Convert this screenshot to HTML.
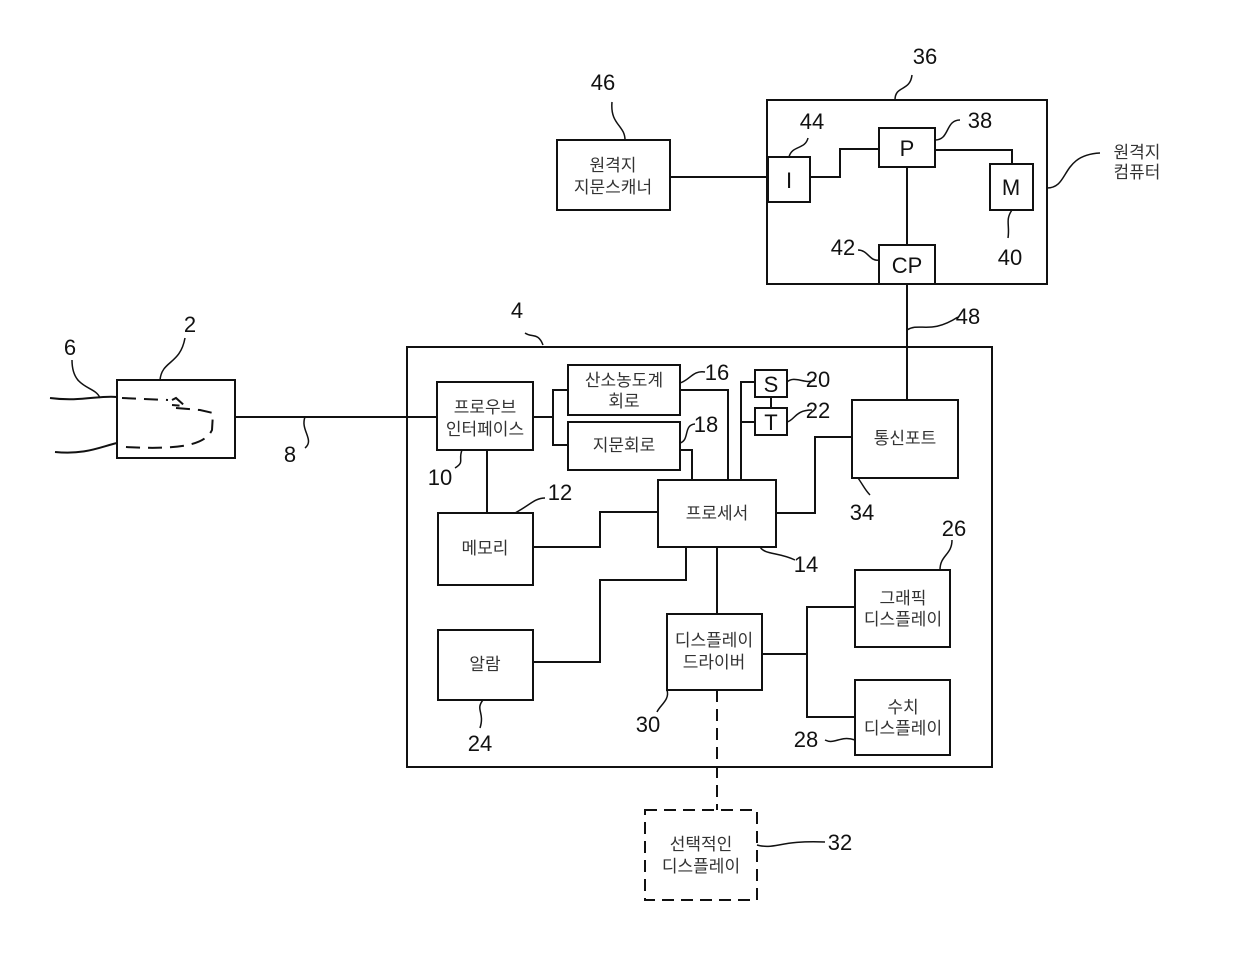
<!DOCTYPE html>
<html><head><meta charset="utf-8"><style>
html,body{margin:0;padding:0;background:#fff}
svg{display:block}
text{font-family:"Liberation Sans","Noto Sans CJK KR",sans-serif;fill:#222}
.k{font-size:17px;fill:#333}
.n{font-size:22px;fill:#111}
</style></head><body>
<svg width="1240" height="953" viewBox="0 0 1240 953" xmlns="http://www.w3.org/2000/svg">
<g fill="none" stroke="#111" stroke-width="2">
<rect x="767" y="100" width="280" height="184"/>
<rect x="768" y="157" width="42" height="45"/>
<rect x="879" y="128" width="56" height="39"/>
<rect x="990" y="164" width="43" height="46"/>
<rect x="879" y="245" width="56" height="39"/>
<polyline points="810,177 840,177 840,149 879,149"/>
<polyline points="935,150 1012,150 1012,164"/>
<line x1="907" y1="167" x2="907" y2="245"/>
<line x1="907" y1="284" x2="907" y2="400"/>
<rect x="557" y="140" width="113" height="70"/>
<line x1="670" y1="177" x2="768" y2="177"/>
<rect x="407" y="347" width="585" height="420"/>
<rect x="117" y="380" width="118" height="78"/>
<line x1="235" y1="417" x2="437" y2="417"/>
<path d="M50,398 C80,402 100,395 117,397"/>
<path d="M55,452 C85,455 100,447 117,443"/>
<path d="M122,398 L168,400 M172,400 L176,398 L185,406 L172,405 M176,408 L200,410 L213,413 L212,430 C205,445 180,450 125,447 L122,446" stroke-dasharray="14,8"/>
<rect x="437" y="382" width="96" height="68"/>
<rect x="568" y="365" width="112" height="50"/>
<rect x="568" y="422" width="112" height="48"/>
<rect x="755" y="370" width="32" height="27"/>
<rect x="755" y="408" width="32" height="27"/>
<rect x="852" y="400" width="106" height="78"/>
<rect x="658" y="480" width="118" height="67"/>
<rect x="438" y="513" width="95" height="72"/>
<rect x="438" y="630" width="95" height="70"/>
<rect x="667" y="614" width="95" height="76"/>
<rect x="855" y="570" width="95" height="77"/>
<rect x="855" y="680" width="95" height="75"/>
<rect x="645" y="810" width="112" height="90" stroke-dasharray="12,7"/>
<polyline points="533,417 553,417"/>
<polyline points="568,390 553,390 553,445 568,445"/>
<line x1="487" y1="450" x2="487" y2="513"/>
<polyline points="533,547 600,547 600,512 658,512"/>
<polyline points="680,390 728,390 728,480"/>
<polyline points="680,450 692,450 692,480"/>
<polyline points="755,382 741,382 741,480"/>
<line x1="741" y1="422" x2="755" y2="422"/>
<line x1="771" y1="397" x2="771" y2="408"/>
<polyline points="776,513 815,513 815,437 852,437"/>
<polyline points="686,547 686,580 600,580 600,662 533,662"/>
<line x1="717" y1="547" x2="717" y2="614"/>
<polyline points="762,654 807,654"/>
<polyline points="855,607 807,607 807,717 855,717"/>
<line x1="717" y1="690" x2="717" y2="810" stroke-dasharray="12,7"/>
</g>
<g fill="none" stroke="#111" stroke-width="1.5">
<path d="M895,100 C895,85 910,92 912,75"/>
<path d="M625,140 C625,125 610,125 612,102"/>
<path d="M525,333 C532,338 538,332 543,345"/>
<path d="M160,380 C162,360 180,365 185,338"/>
<path d="M100,398 C95,385 72,390 72,360"/>
<path d="M305,417 C300,430 315,440 305,448"/>
<path d="M462,450 C458,460 465,462 455,468"/>
<path d="M515,513 C530,505 535,498 545,498"/>
<path d="M680,383 C690,380 693,370 705,372"/>
<path d="M680,443 C690,440 683,425 695,424"/>
<path d="M787,382 C795,375 805,385 815,380"/>
<path d="M787,422 C795,420 795,410 812,410"/>
<path d="M858,478 C863,485 865,490 870,495"/>
<path d="M760,547 C765,555 778,552 795,560"/>
<path d="M940,570 C940,555 952,555 952,540"/>
<path d="M667,690 C670,700 660,705 657,712"/>
<path d="M483,700 C475,710 485,712 480,728"/>
<path d="M855,740 C840,735 835,745 825,740"/>
<path d="M757,845 C775,850 780,840 825,842"/>
<path d="M879,260 C870,262 868,250 858,250"/>
<path d="M1012,210 C1005,220 1010,225 1008,238"/>
<path d="M789,157 C792,145 805,150 808,138"/>
<path d="M935,140 C950,140 945,120 960,120"/>
<path d="M907,330 C920,322 930,335 958,317"/>
<path d="M1047,188 C1070,188 1060,155 1100,153"/>
</g>
<g text-anchor="middle">
<text class="n" x="925" y="64">36</text>
<text class="n" x="603" y="90">46</text>
<text class="n" x="517" y="318">4</text>
<text class="n" x="190" y="332">2</text>
<text class="n" x="70" y="355">6</text>
<text class="n" x="290" y="462">8</text>
<text class="n" x="440" y="485">10</text>
<text class="n" x="560" y="500">12</text>
<text class="n" x="717" y="380">16</text>
<text class="n" x="706" y="432">18</text>
<text class="n" x="818" y="387">20</text>
<text class="n" x="818" y="418">22</text>
<text class="n" x="862" y="520">34</text>
<text class="n" x="806" y="572">14</text>
<text class="n" x="954" y="536">26</text>
<text class="n" x="648" y="732">30</text>
<text class="n" x="480" y="751">24</text>
<text class="n" x="806" y="747">28</text>
<text class="n" x="840" y="850">32</text>
<text class="n" x="843" y="255">42</text>
<text class="n" x="1010" y="265">40</text>
<text class="n" x="812" y="129">44</text>
<text class="n" x="980" y="128">38</text>
<text class="n" x="968" y="324">48</text>
<text class="n" x="789" y="188">I</text>
<text class="n" x="907" y="156">P</text>
<text class="n" x="1011" y="195">M</text>
<text class="n" x="907" y="273">CP</text>
<text class="n" x="771" y="392">S</text>
<text class="n" x="771" y="430">T</text>
<text class="k" x="1137" y="158">원격지</text>
<text class="k" x="1137" y="178">컴퓨터</text>
<text class="k" x="613" y="171">원격지</text>
<text class="k" x="613" y="193">지문스캐너</text>
<text class="k" x="485" y="413">프로우브</text>
<text class="k" x="485" y="435">인터페이스</text>
<text class="k" x="624" y="386">산소농도계</text>
<text class="k" x="624" y="407">회로</text>
<text class="k" x="624" y="451">지문회로</text>
<text class="k" x="905" y="444">통신포트</text>
<text class="k" x="717" y="519">프로세서</text>
<text class="k" x="485" y="554">메모리</text>
<text class="k" x="485" y="670">알람</text>
<text class="k" x="714" y="646">디스플레이</text>
<text class="k" x="714" y="668">드라이버</text>
<text class="k" x="903" y="604">그래픽</text>
<text class="k" x="903" y="625">디스플레이</text>
<text class="k" x="903" y="713">수치</text>
<text class="k" x="903" y="734">디스플레이</text>
<text class="k" x="701" y="850">선택적인</text>
<text class="k" x="701" y="872">디스플레이</text>
</g>
</svg>
</body></html>
